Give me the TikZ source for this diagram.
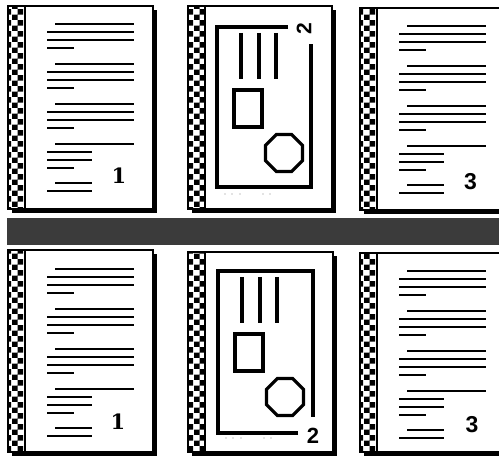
\documentclass[tikz,border=0pt]{standalone}
\usepackage{fontspec}
\newfontfamily\digsans{Liberation Sans}
\newfontfamily\digserif{DejaVu Serif}
\usetikzlibrary{patterns}
\tikzset{
  tl/.style={line width=2.6pt},
  frameline/.style={line width=3.2pt},
  pageborder/.style={line width=1.8pt},
  dig/.style={inner sep=0pt},
  faint/.style={fill=black!22},
}
\newcommand\mypage[4]{%
  \fill[black] (#1+4,#2+4) rectangle (#3+4,#4+4);
  \fill[white] (#1,#2) rectangle (#3,#4);
  \fill[pattern=checkerboard] (#1,#2) rectangle (#1+17,#4);
  \draw[pageborder] (#1,#2) rectangle (#3,#4);
  \draw[pageborder] (#1+17,#2) -- (#1+17,#4);
}
\newcommand\mytextlines{%
  \foreach \g in {18,58,98}{
    \draw[tl] (47,\g) -- (126,\g);
    \draw[tl] (39,\g+8) -- (126,\g+8);
    \draw[tl] (39,\g+16) -- (126,\g+16);
    \draw[tl] (39,\g+24) -- (66,\g+24);
  }
  \draw[tl] (47,138) -- (126,138);
  \draw[tl] (39,146) -- (84,146);
  \draw[tl] (39,154) -- (84,154);
  \draw[tl] (39,162) -- (66,162);
  \draw[tl] (47,177) -- (84,177);
  \draw[tl] (39,185) -- (84,185);
}
\newcommand\mypics{%
  \foreach \x in {241,259,276}{\draw[frameline] (\x,6) -- (\x,52);}
  \draw[frameline] (234,63) rectangle (262,100);
  \draw[frameline] (284,126) +(22.5:20) -- +(67.5:20) -- +(112.5:20) -- +(157.5:20)
     -- +(202.5:20) -- +(247.5:20) -- +(292.5:20) -- +(337.5:20) -- cycle;
  \foreach \x in {225,232,240,263,270}{\fill[faint] (\x,167) circle (0.9);}
}
\begin{document}
\begin{tikzpicture}[x=1pt,y=-1pt]
  \useasboundingbox (0,0) rectangle (499,457);
  \clip (0,0) rectangle (499,457);
  \fill[white] (0,0) rectangle (499,457);
  % ---------- top row ----------
  \mypage{8}{6}{153}{209}
  \begin{scope}[shift={(8,6)}]\mytextlines\end{scope}
  \node[dig] (n1t) at (119,176) {\digserif\bfseries\fontsize{21}{21}\selectfont 1};

  \mypage{188}{6}{332}{209}
  \draw[frameline] (288,27) -- (217,27) -- (217,187) -- (311,187) -- (311,44);
  \begin{scope}[shift={(0,27)}]\mypics\end{scope}
  \node[dig,rotate=90] (n2t) at (304,29) {\digsans\bfseries\fontsize{21}{21}\selectfont 2};

  \mypage{360}{8}{515}{210}
  \begin{scope}[shift={(360,8)}]\mytextlines\end{scope}
  \node[dig] (n3t) at (470.5,181.5) {\digsans\bfseries\fontsize{23}{23}\selectfont 3};

  % ---------- dark bar ----------
  \fill[black!77] (7,218) rectangle (505,245);

  % ---------- bottom row ----------
  \mypage{8}{250}{153}{452}
  \begin{scope}[shift={(8,251)}]\mytextlines\end{scope}
  \node[dig] (n1b) at (118,422) {\digserif\bfseries\fontsize{21}{21}\selectfont 1};

  \mypage{188}{252}{333}{452}
  \draw[frameline] (298,433) -- (218,433) -- (218,271) -- (313,271) -- (313,417);
  \begin{scope}[shift={(1,271)}]\mypics\end{scope}
  \node[dig] (n2b) at (313,436) {\digsans\bfseries\fontsize{22}{22}\selectfont 2};

  \mypage{360}{253}{515}{452}
  \begin{scope}[shift={(360,253)}]\mytextlines\end{scope}
  \node[dig] (n3b) at (472,425) {\digsans\bfseries\fontsize{23}{23}\selectfont 3};
\end{tikzpicture}
\end{document}
